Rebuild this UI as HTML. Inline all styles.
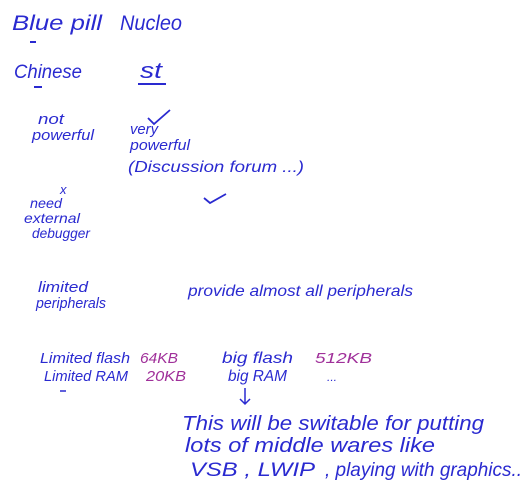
<!DOCTYPE html>
<html><head><style>
html,body{margin:0;padding:0;background:#fff;}
svg{display:block;}
text{font-family:"Liberation Sans",sans-serif;font-style:italic;fill:#2a2ad0;}
.m{fill:#a0309a;}
</style></head><body>
<svg width="526" height="481" viewBox="0 0 526 481" xmlns="http://www.w3.org/2000/svg">
<text x="12" y="30" font-size="21" textLength="90" lengthAdjust="spacingAndGlyphs">Blue pill</text>
<line x1="30" y1="42" x2="36" y2="42" stroke="#2a2ad0" stroke-width="2"/>
<text x="120" y="30" font-size="21" textLength="62" lengthAdjust="spacingAndGlyphs">Nucleo</text>
<text x="14" y="78" font-size="19" textLength="68" lengthAdjust="spacingAndGlyphs">Chinese</text>
<line x1="34" y1="87" x2="42" y2="87" stroke="#2a2ad0" stroke-width="2"/>
<text x="140" y="78" font-size="22" textLength="22" lengthAdjust="spacingAndGlyphs">st</text>
<line x1="138" y1="84" x2="166" y2="84" stroke="#2a2ad0" stroke-width="2"/>
<text x="38" y="124" font-size="15" textLength="26" lengthAdjust="spacingAndGlyphs">not</text>
<text x="32" y="140" font-size="15" textLength="62" lengthAdjust="spacingAndGlyphs">powerful</text>
<path d="M148 118 L154 124 L170 110" fill="none" stroke="#2a2ad0" stroke-width="1.8"/>
<text x="130" y="134" font-size="15" textLength="28" lengthAdjust="spacingAndGlyphs">very</text>
<text x="130" y="150" font-size="15" textLength="60" lengthAdjust="spacingAndGlyphs">powerful</text>
<text x="128" y="172" font-size="16" textLength="176" lengthAdjust="spacingAndGlyphs">(Discussion forum ...)</text>
<path d="M204 198 L210 203 L226 194" fill="none" stroke="#2a2ad0" stroke-width="1.8"/>
<text x="60" y="194" font-size="13">x</text>
<text x="30" y="208" font-size="14" textLength="32" lengthAdjust="spacingAndGlyphs">need</text>
<text x="24" y="223" font-size="14" textLength="56" lengthAdjust="spacingAndGlyphs">external</text>
<text x="32" y="238" font-size="14" textLength="58" lengthAdjust="spacingAndGlyphs">debugger</text>
<text x="38" y="292" font-size="15" textLength="50" lengthAdjust="spacingAndGlyphs">limited</text>
<text x="36" y="308" font-size="15" textLength="70" lengthAdjust="spacingAndGlyphs">peripherals</text>
<text x="188" y="296" font-size="16" textLength="225" lengthAdjust="spacingAndGlyphs">provide almost all peripherals</text>
<text x="40" y="363" font-size="15" textLength="90" lengthAdjust="spacingAndGlyphs">Limited flash</text>
<text class="m" x="140" y="363" font-size="15" textLength="38" lengthAdjust="spacingAndGlyphs">64KB</text>
<text x="44" y="381" font-size="15" textLength="84" lengthAdjust="spacingAndGlyphs">Limited RAM</text>
<line x1="60" y1="391" x2="66" y2="391" stroke="#2a2ad0" stroke-width="1.5"/>
<text class="m" x="146" y="381" font-size="15" textLength="40" lengthAdjust="spacingAndGlyphs">20KB</text>
<text x="222" y="363" font-size="16" textLength="71" lengthAdjust="spacingAndGlyphs">big flash</text>
<text class="m" x="315" y="363" font-size="15" textLength="57" lengthAdjust="spacingAndGlyphs">512KB</text>
<text x="228" y="381" font-size="16" textLength="59" lengthAdjust="spacingAndGlyphs">big RAM</text>
<text x="327" y="381" font-size="12">...</text>
<path d="M245 388 L245 404 M240 399 L245 404 L250 399" fill="none" stroke="#2a2ad0" stroke-width="1.5"/>
<text x="182" y="430" font-size="20" textLength="302" lengthAdjust="spacingAndGlyphs">This will be switable for putting</text>
<text x="185" y="452" font-size="20" textLength="250" lengthAdjust="spacingAndGlyphs">lots of middle wares like</text>
<text x="190" y="476" font-size="19" textLength="125" lengthAdjust="spacingAndGlyphs">VSB , LWIP</text>
<text x="325" y="476" font-size="19" textLength="197" lengthAdjust="spacingAndGlyphs">, playing with graphics..</text>
</svg>
</body></html>
